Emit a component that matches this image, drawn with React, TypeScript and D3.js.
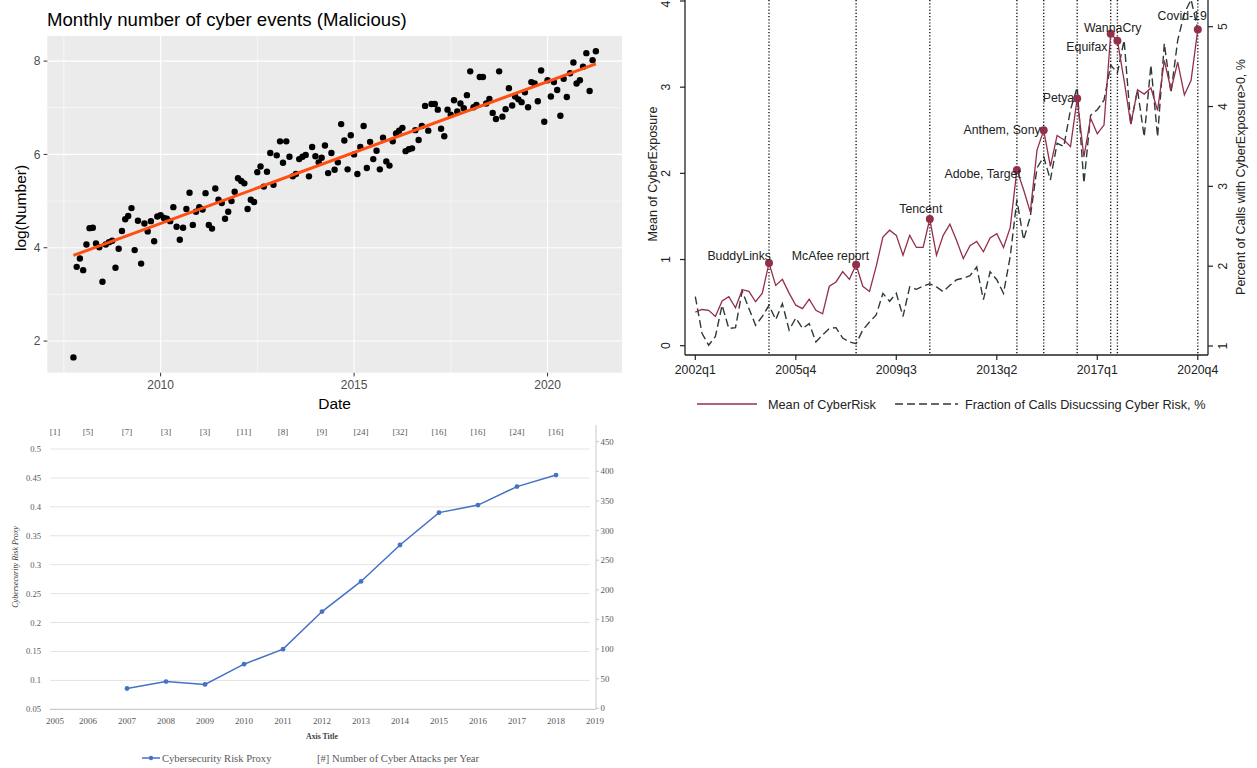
import React from "react";
import * as d3 from "d3";

// ---------- top left: monthly malicious cyber events (log), Oct 2007 .. Apr 2021
const malStartYear = 2007;
const malStartMonth = 9; // October, 0-based
const malLogCount = [
  1.65, 3.59, 3.77,
  3.52, 4.07, 4.42, 4.43, 4.09, 4.01, 3.27, 4.07, 4.12, 4.15, 3.57, 3.98,
  4.36, 4.61, 4.68, 4.85, 3.95, 4.58, 3.66, 4.52, 4.35, 4.57, 4.14, 4.67,
  4.70, 4.64, 4.62, 4.57, 4.87, 4.45, 4.17, 4.43, 4.83, 5.18, 4.49, 4.77,
  4.87, 4.82, 5.17, 4.49, 4.41, 5.27, 5.03, 4.96, 4.62, 4.77, 5.0, 5.2,
  5.49, 5.43, 5.38, 4.83, 5.03, 4.98, 5.62, 5.74, 5.31, 5.63, 6.03, 5.35,
  5.98, 6.28, 5.82, 6.28, 5.95, 5.53, 5.58, 5.9, 5.95, 5.99, 5.53, 6.16,
  5.96, 5.83, 5.93, 6.19, 5.6, 6.03, 5.67, 5.83, 6.65, 6.3, 5.68, 6.41,
  6.0, 5.58, 6.16, 6.61, 5.71, 6.27, 5.9, 6.08, 5.68, 6.36, 5.85, 5.76,
  6.28, 6.45, 6.51, 6.57, 6.07, 6.11, 6.13, 6.52, 6.31, 6.61, 7.04, 6.51,
  7.08, 7.08, 6.96, 6.55, 6.39, 6.96, 6.85, 7.16, 6.92, 7.09, 6.99, 7.27,
  7.78, 7.01, 7.06, 7.66, 7.66, 7.09, 7.19, 6.89, 6.76, 7.78, 6.81, 6.97,
  7.42, 7.05, 7.24, 7.18, 7.12, 7.33, 7.01, 7.55, 7.52, 7.14, 7.8, 6.7,
  7.59, 7.24, 7.55, 7.38, 6.83, 7.62, 7.23, 7.74, 7.97, 7.52, 7.59, 7.88,
  8.17, 7.36, 8.02, 8.21,
];
const malYTicks = [2, 4, 6, 8];
const malXTicks = [2005, 2010, 2015, 2020, 2025];

// ---------- top right: cyber exposure from earnings calls, 2002q1 .. 2020q4
const quarterTicks = ["2002q1", "2005q4", "2009q3", "2013q2", "2017q1", "2020q4"];
const cyberRiskMean = [
  0.39, 0.42, 0.41, 0.34, 0.52, 0.57, 0.44, 0.65, 0.63, 0.51,
  0.61, 0.96, 0.7, 0.77, 0.61, 0.47, 0.43, 0.54, 0.41, 0.37,
  0.69, 0.74, 0.86, 0.77, 0.94, 0.69, 0.63, 0.92, 1.26, 1.34,
  1.28, 1.05, 1.28, 1.14, 1.14, 1.47, 1.05, 1.28, 1.41, 1.22,
  1.01, 1.16, 1.21, 1.09, 1.25, 1.3, 1.14, 1.37, 2.04, 1.81,
  1.55, 2.27, 2.5, 2.08, 2.44, 2.39, 2.31, 2.87, 2.19, 2.64,
  2.46, 2.56, 3.62, 3.54, 3.08, 2.57, 2.97, 2.92, 2.99, 2.73,
  3.31, 2.97, 3.29, 2.91, 3.08, 3.67,
];
const callsShare = [
  1.62, 1.16, 1.01, 1.12, 1.51, 1.22, 1.23, 1.69, 1.47, 1.26,
  1.37, 1.51, 1.33, 1.53, 1.2, 1.35, 1.22, 1.28, 1.05, 1.14,
  1.22, 1.23, 1.1, 1.05, 1.03, 1.2, 1.3, 1.39, 1.66, 1.56,
  1.66, 1.37, 1.74, 1.71, 1.75, 1.78, 1.74, 1.68, 1.76, 1.83,
  1.85, 1.88, 1.99, 1.58, 1.93, 1.83, 1.66, 2.12, 2.83, 2.33,
  2.62, 3.23, 3.37, 3.08, 3.54, 3.5, 3.96, 4.24, 3.04, 3.89,
  3.96, 4.08, 4.52, 4.42, 4.83, 3.77, 4.21, 3.62, 4.52, 3.62,
  4.79, 4.17, 4.83, 5.17, 5.34, 4.96,
];
const eventNames = ["BuddyLinks", "McAfee report", "Tencent", "Adobe, Target", "Anthem, Sony", "Petya", "WannaCry", "Equifax", "Covid-19"];
const eventQuarters = ["2004q4", "2008q1", "2010q4", "2014q1", "2015q1", "2016q2", "2017q3", "2017q4", "2020q4"];
const leftTicks = [0, 1, 2, 3, 4];
const rightTicks = [1, 2, 3, 4, 5];

// ---------- bottom: cybersecurity risk proxy (Excel)
const proxyYears = [2007, 2008, 2009, 2010, 2011, 2012, 2013, 2014, 2015, 2016, 2017, 2018];
const proxyValues = [0.086, 0.098, 0.093, 0.128, 0.154, 0.219, 0.271, 0.334, 0.39, 0.403, 0.435, 0.455];
const attackYears = [2005, 2006, 2007, 2008, 2009, 2010, 2011, 2012, 2013, 2014, 2015, 2016, 2017, 2018];
const attackCounts = [1, 5, 7, 3, 3, 11, 8, 9, 24, 32, 16, 16, 24, 16];
const proxyXTicks = [2005, 2006, 2007, 2008, 2009, 2010, 2011, 2012, 2013, 2014, 2015, 2016, 2017, 2018, 2019];
const proxyYTicks = [0.05, 0.1, 0.15, 0.2, 0.25, 0.3, 0.35, 0.4, 0.45, 0.5];
const countTicks = [0, 50, 100, 150, 200, 250, 300, 350, 400, 450];

const sans = "'Liberation Sans', Arial, sans-serif";
const serif = "'Liberation Serif', 'DejaVu Serif', serif";

const quarterIndex = (q: string) => (+q.slice(0, 4) - 2002) * 4 + (+q.slice(5) - 1);

function MaliciousPanel() {
  const dates = malLogCount.map((_, i) => new Date(malStartYear, malStartMonth + i, 1));
  const [t0, t1] = d3.extent(dates) as [Date, Date];
  const span = +t1 - +t0;
  const x = d3
    .scaleTime()
    .domain([new Date(+t0 - span * 0.05), new Date(+t1 + span * 0.05)])
    .range([47.3, 622]);
  const [v0, v1] = d3.extent(malLogCount) as [number, number];
  const vs = v1 - v0;
  const y = d3.scaleLinear().domain([v0 - vs * 0.05, v1 + vs * 0.05]).range([372.7, 36]);

  // least squares trend
  const ts = dates.map((d) => +d);
  const mt = d3.mean(ts)!;
  const mv = d3.mean(malLogCount)!;
  const slope =
    d3.sum(ts, (t, i) => (t - mt) * (malLogCount[i] - mv)) / d3.sum(ts, (t) => (t - mt) ** 2);
  const fit = (t: number) => mv + slope * (t - mt);

  const [dx0, dx1] = x.domain().map(Number);
  const majorX = malXTicks.map((yr) => +new Date(yr, 0, 1));
  const minorX = d3.pairs(majorX).map(([a, b]) => (a + b) / 2).filter((t) => t > dx0 && t < dx1);
  const majorXIn = majorX.filter((t) => t > dx0 && t < dx1);
  const [dy0, dy1] = y.domain();
  const minorY = d3.range(1, 10, 2).filter((v) => v > dy0 && v < dy1);

  return (
    <g fontFamily={sans}>
      <text x={47} y={26} fontSize={18.6} fill="#000">
        Monthly number of cyber events (Malicious)
      </text>
      <rect x={47.3} y={36} width={622 - 47.3} height={372.7 - 36} fill="#EBEBEB" />
      {minorY.map((v) => (
        <line key={"my" + v} x1={47.3} x2={622} y1={y(v)} y2={y(v)} stroke="#fff" strokeWidth={0.55} />
      ))}
      {minorX.map((t) => (
        <line key={"mx" + t} x1={x(t)} x2={x(t)} y1={36} y2={372.7} stroke="#fff" strokeWidth={0.55} />
      ))}
      {malYTicks.map((v) => (
        <line key={"gy" + v} x1={47.3} x2={622} y1={y(v)} y2={y(v)} stroke="#fff" strokeWidth={1.1} />
      ))}
      {majorXIn.map((t) => (
        <line key={"gx" + t} x1={x(t)} x2={x(t)} y1={36} y2={372.7} stroke="#fff" strokeWidth={1.1} />
      ))}
      {dates.map((d, i) => (
        <circle key={i} cx={x(d)} cy={y(malLogCount[i])} r={3.2} fill="#000" />
      ))}
      <line
        x1={x(t0)}
        x2={x(t1)}
        y1={y(fit(+t0))}
        y2={y(fit(+t1))}
        stroke="#FF4E0F"
        strokeWidth={3}
      />
      {malYTicks.map((v) => (
        <g key={"ty" + v}>
          <line x1={43.6} x2={47.3} y1={y(v)} y2={y(v)} stroke="#333" strokeWidth={1} />
          <text x={40.5} y={y(v) + 4.2} fontSize={12} fill="#4D4D4D" textAnchor="end">
            {v}
          </text>
        </g>
      ))}
      {majorXIn.map((t) => (
        <g key={"tx" + t}>
          <line x1={x(t)} x2={x(t)} y1={372.7} y2={376.4} stroke="#333" strokeWidth={1} />
          <text x={x(t)} y={389} fontSize={12} fill="#4D4D4D" textAnchor="middle">
            {new Date(t).getFullYear()}
          </text>
        </g>
      ))}
      <text x={334.6} y={408.5} fontSize={15.5} textAnchor="middle" fill="#000">
        Date
      </text>
      <text
        transform="translate(26,208) rotate(-90)"
        fontSize={15.5}
        textAnchor="middle"
        fill="#000"
      >
        log(Number)
      </text>
    </g>
  );
}

function ExposurePanel() {
  const x = d3.scaleLinear().domain([0, 75]).range([695.3, 1197.8]);
  const yL = d3.scaleLinear().domain([0, 4]).range([345.7, 1]);
  const yR = d3.scaleLinear().domain([1, 5]).range([346, 26.7]);
  const red = "#932F48";
  const dark = "#2E3A38";
  const riskLine = d3
    .line<number>()
    .x((_, i) => x(i))
    .y((v) => yL(v));
  const callsLine = d3
    .line<number>()
    .x((_, i) => x(i))
    .y((v) => yR(v));
  const labelLayout: Record<string, { anchor: string; dx: number; dy: number }> = {
    BuddyLinks: { anchor: "end", dx: 2, dy: -7 },
    "McAfee report": { anchor: "end", dx: 13, dy: -9 },
    Tencent: { anchor: "middle", dx: -9, dy: -10 },
    "Adobe, Target": { anchor: "end", dx: 4, dy: 4 },
    "Anthem, Sony": { anchor: "end", dx: -3, dy: 0 },
    Petya: { anchor: "end", dx: -3, dy: 0 },
    WannaCry: { anchor: "middle", dx: 2, dy: -6 },
    Equifax: { anchor: "end", dx: -10, dy: 6 },
    "Covid-19": { anchor: "end", dx: 9, dy: -13 },
  };

  return (
    <g fontFamily={sans} fill="#222">
      <defs>
        <clipPath id="expClip">
          <rect x={685} y={0} width={1208 - 685} height={355} />
        </clipPath>
      </defs>
      {eventQuarters.map((q) => (
        <line
          key={"ev" + q}
          x1={x(quarterIndex(q))}
          x2={x(quarterIndex(q))}
          y1={0}
          y2={355}
          stroke="#111"
          strokeWidth={1.4}
          strokeDasharray="1.2,2"
        />
      ))}
      <g clipPath="url(#expClip)">
        <path d={callsLine(callsShare)!} fill="none" stroke={dark} strokeWidth={1.4} strokeDasharray="8,4" />
        <path d={riskLine(cyberRiskMean)!} fill="none" stroke={red} strokeWidth={1.3} />
      </g>
      {eventQuarters.map((q, k) => {
        const i = quarterIndex(q);
        const cx = x(i);
        const cy = yL(cyberRiskMean[i]);
        const lay = labelLayout[eventNames[k]];
        return (
          <g key={"mk" + q}>
            <circle cx={cx} cy={cy} r={4} fill={red} />
            <text
              x={cx + lay.dx}
              y={cy + lay.dy + 4}
              fontSize={12.3}
              textAnchor={lay.anchor as any}
              fill="#222"
            >
              {eventNames[k]}
            </text>
          </g>
        );
      })}
      {/* axes */}
      <line x1={685} x2={685} y1={0} y2={355} stroke="#222" strokeWidth={1.3} />
      <line x1={1208} x2={1208} y1={0} y2={355} stroke="#222" strokeWidth={1.3} />
      <line x1={685} x2={1208} y1={355} y2={355} stroke="#222" strokeWidth={1.3} />
      {leftTicks.map((v) => (
        <g key={"lt" + v}>
          <line x1={680} x2={685} y1={yL(v)} y2={yL(v)} stroke="#222" strokeWidth={1.2} />
          <text transform={`translate(669.5,${Math.max(yL(v), 4)}) rotate(-90)`} fontSize={12.3} textAnchor="middle">
            {v}
          </text>
        </g>
      ))}
      {rightTicks.map((v) => (
        <g key={"rt" + v}>
          <line x1={1208} x2={1213} y1={yR(v)} y2={yR(v)} stroke="#222" strokeWidth={1.2} />
          <text transform={`translate(1227,${yR(v)}) rotate(-90)`} fontSize={12.3} textAnchor="middle">
            {v}
          </text>
        </g>
      ))}
      {quarterTicks.map((q) => (
        <g key={"qt" + q}>
          <line x1={x(quarterIndex(q))} x2={x(quarterIndex(q))} y1={355} y2={360} stroke="#222" strokeWidth={1.2} />
          <text x={x(quarterIndex(q))} y={374} fontSize={12.3} textAnchor="middle">
            {q}
          </text>
        </g>
      ))}
      <text transform="translate(657,174) rotate(-90)" fontSize={12.5} textAnchor="middle">
        Mean of CyberExposure
      </text>
      <text transform="translate(1245,177) rotate(-90)" fontSize={12.5} textAnchor="middle">
        Percent of Calls with CyberExposure&gt;0, %
      </text>
      {/* legend */}
      <line x1={697} x2={757} y1={404} y2={404} stroke={red} strokeWidth={1.3} />
      <text x={768} y={408.5} fontSize={12.7}>
        Mean of CyberRisk
      </text>
      <line x1={895} x2={958} y1={404} y2={404} stroke={dark} strokeWidth={1.4} strokeDasharray="8,4" />
      <text x={965} y={408.5} fontSize={12.7}>
        Fraction of Calls Disucssing Cyber Risk, %
      </text>
    </g>
  );
}

function ProxyPanel() {
  const x = d3.scaleLinear().domain([2005, 2019]).range([49, 595]);
  const yL = d3.scaleLinear().domain([0.05, 0.5]).range([709.3, 449]);
  const yR = d3.scaleLinear().domain([0, 450]).range([708.3, 441.7]);
  const blue = "#4472C4";
  const line = d3
    .line<number>()
    .x((_, i) => x(proxyYears[i]))
    .y((v) => yL(v));
  const fmt = (v: number) => String(+v.toFixed(2));
  const grey = "#595959";

  return (
    <g fontFamily={serif}>
      {proxyYTicks.map((v) => (
        <g key={"py" + v}>
          <line
            x1={50}
            x2={v === 0.05 ? 596 : 590}
            y1={yL(v)}
            y2={yL(v)}
            stroke={v === 0.05 ? "#BFBFBF" : "#E3E3E3"}
            strokeWidth={1}
          />
          <text x={41} y={yL(v) + 3} fontSize={8.6} textAnchor="end" fill={grey}>
            {fmt(v)}
          </text>
        </g>
      ))}
      <line x1={596} x2={596} y1={425} y2={709.3} stroke="#C8C8C8" strokeWidth={1} />
      {countTicks.map((v) => (
        <g key={"ct" + v}>
          <line x1={596} x2={599} y1={yR(v)} y2={yR(v)} stroke="#C8C8C8" strokeWidth={1} />
          <text x={600.5} y={yR(v) + 3} fontSize={8.8} fill={grey}>
            {v}
          </text>
        </g>
      ))}
      {proxyXTicks.map((yr) => (
        <text key={"px" + yr} x={x(yr) + (yr === 2005 ? 6 : 0)} y={724} fontSize={9} textAnchor="middle" fill={grey}>
          {yr}
        </text>
      ))}
      {attackYears.map((yr, i) => (
        <text key={"ac" + yr} x={x(yr) + (yr === 2005 ? 6 : 0)} y={435} fontSize={9} textAnchor="middle" fill={grey}>
          [{attackCounts[i]}]
        </text>
      ))}
      <path d={line(proxyValues)!} fill="none" stroke={blue} strokeWidth={1.5} />
      {proxyValues.map((v, i) => (
        <circle key={"pp" + i} cx={x(proxyYears[i])} cy={yL(v)} r={2.4} fill={blue} />
      ))}
      <text x={322} y={738.5} fontSize={7.8} fontWeight="bold" textAnchor="middle" fill="#404040">
        Axis Title
      </text>
      <text
        transform="translate(18,567) rotate(-90)"
        fontSize={8}
        fontStyle="italic"
        textAnchor="middle"
        fill="#404040"
      >
        Cybersecurity Risk Proxy
      </text>
      <line x1={142} x2={160} y1={758} y2={758} stroke={blue} strokeWidth={1.5} />
      <circle cx={151} cy={758} r={2.2} fill={blue} />
      <text x={162} y={761.5} fontSize={10.6} fill={grey}>
        Cybersecurity Risk Proxy
      </text>
      <text x={317} y={761.5} fontSize={10.6} fill={grey}>
        [#] Number of Cyber Attacks per Year
      </text>
    </g>
  );
}

export default function App() {
  return (
    <svg
      width={1257}
      height={768}
      viewBox="0 0 1257 768"
      style={{ position: "absolute", left: 0, top: 0, background: "#fff" }}
    >
      <rect width={1257} height={768} fill="#fff" />
      <MaliciousPanel />
      <ExposurePanel />
      <ProxyPanel />
    </svg>
  );
}
